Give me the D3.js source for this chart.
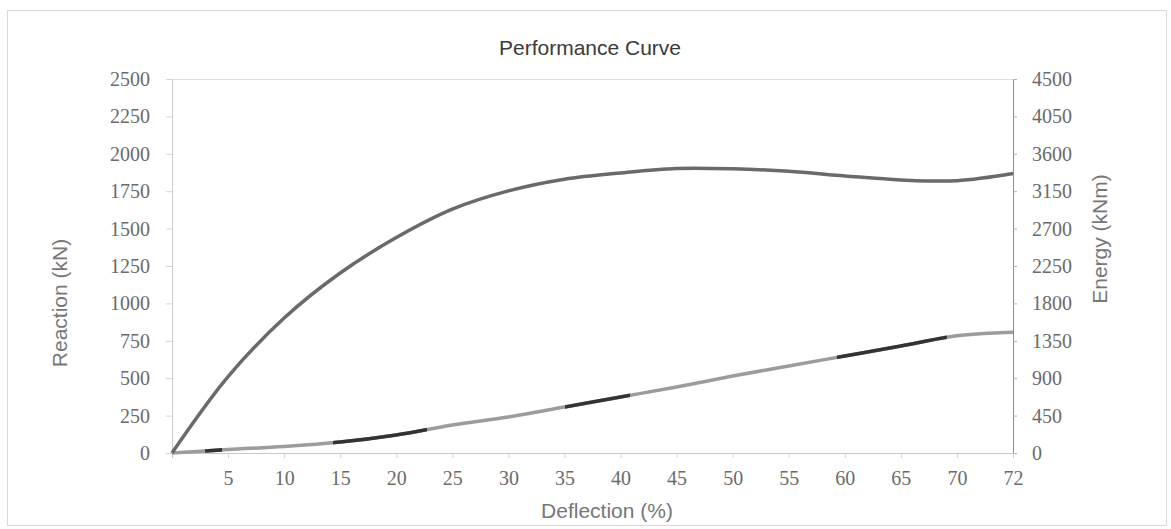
<!DOCTYPE html>
<html>
<head>
<meta charset="utf-8">
<script src="https://cdn.jsdelivr.net/npm/d3@7"></script>
<style>
  body { margin: 0; background: #fff; }
</style>
</head>
<body>
<div id="chart"></div>
<script>
// Categories on the x axis (equally spaced, Excel-style category axis)
const deflection = ["0", "5", "10", "15", "20", "25", "30", "35", "40", "45", "50", "55", "60", "65", "70", "72"];

// Reaction (kN), left axis
const reaction = [0, 510, 902, 1203, 1440, 1630, 1752, 1830, 1872, 1902, 1900, 1883, 1852, 1825, 1820, 1868];

// Energy (kNm), right axis
const energy = [0, 42, 78, 132, 217, 337, 433, 553, 674, 794, 926, 1047, 1167, 1287, 1410, 1452];

// Darker stretches of the energy line in the scan (in category-index units)
const energyDarkSpans = [[0.59, 0.89], [2.87, 4.55], [7.01, 8.17], [11.86, 13.82]];

const reactionTicks = [0, 250, 500, 750, 1000, 1250, 1500, 1750, 2000, 2250, 2500];
const energyTicks = [0, 450, 900, 1350, 1800, 2250, 2700, 3150, 3600, 4050, 4500];

const W = 1171, H = 529;
const margin = { top: 79, right: 158, bottom: 76, left: 172 };
const width = W - margin.left - margin.right;
const height = H - margin.top - margin.bottom;

const svg = d3.select("#chart")
  .append("svg")
  .attr("width", W)
  .attr("height", H);

// Outer chart border
svg.append("rect")
  .attr("x", 7.5).attr("y", 10.5)
  .attr("width", 1159).attr("height", 515)
  .attr("fill", "none")
  .attr("stroke", "#d9d9d9");

const g = svg.append("g")
  .attr("transform", `translate(${margin.left},${margin.top})`);

// Scales
const x = d3.scaleLinear().domain([0, deflection.length - 1]).range([0, width]);
const yLeft = d3.scaleLinear().domain([0, 2500]).range([height, 0]);
const yRight = d3.scaleLinear().domain([0, 4500]).range([height, 0]);

const tickFont = "'Liberation Serif', 'Times New Roman', serif";
const titleFont = "'Liberation Sans', Arial, sans-serif";

// Top border of plot area
g.append("line")
  .attr("x1", 0).attr("x2", width)
  .attr("y1", 0.5).attr("y2", 0.5)
  .attr("stroke", "#e0e0e0");

// Left axis
const leftAxis = g.append("g")
  .call(d3.axisLeft(yLeft).tickValues(reactionTicks).tickFormat(d3.format("d")).tickSize(6).tickPadding(16));
leftAxis.select(".domain").attr("stroke", "#d0d0d0");
leftAxis.selectAll(".tick line").attr("stroke", "#d4d4d4");
leftAxis.selectAll(".tick text")
  .attr("fill", "#6b6b6b")
  .style("font-family", tickFont)
  .style("font-size", "20px");

// Right axis
const rightAxis = g.append("g")
  .attr("transform", `translate(${width},0)`)
  .call(d3.axisRight(yRight).tickValues(energyTicks).tickFormat(d3.format("d")).tickSize(4).tickPadding(15));
rightAxis.select(".domain").attr("stroke", "#8c8c8c");
rightAxis.selectAll(".tick line").attr("stroke", "#b0b0b0");
rightAxis.selectAll(".tick text")
  .attr("fill", "#6b6b6b")
  .style("font-family", tickFont)
  .style("font-size", "20px");

// Bottom axis
const bottomAxis = g.append("g")
  .attr("transform", `translate(0,${height})`)
  .call(d3.axisBottom(x)
    .tickValues(d3.range(1, deflection.length))
    .tickFormat(i => deflection[i])
    .tickSize(5)
    .tickPadding(13));
bottomAxis.select(".domain").attr("stroke", "#c8c8c8");
bottomAxis.selectAll(".tick line").attr("stroke", "#cfcfcf");
bottomAxis.selectAll(".tick text")
  .attr("fill", "#6b6b6b")
  .style("font-family", tickFont)
  .style("font-size", "20px");

// Lines (smoothed like the spreadsheet original)
const reactionLine = d3.line()
  .x((d, i) => x(i))
  .y(d => yLeft(d))
  .curve(d3.curveCatmullRom.alpha(0.5));

const energyLine = d3.line()
  .x((d, i) => x(i))
  .y(d => yRight(d))
  .curve(d3.curveCatmullRom.alpha(0.5));

g.append("path")
  .datum(energy)
  .attr("fill", "none")
  .attr("stroke", "#9c9c9c")
  .attr("stroke-width", 3.5)
  .attr("d", energyLine);

// Dark stretches: same energy path, clipped to the spans
const defs = svg.append("defs");
energyDarkSpans.forEach((s, k) => {
  defs.append("clipPath")
    .attr("id", `dark-${k}`)
    .append("rect")
    .attr("x", x(s[0]))
    .attr("y", -10)
    .attr("width", x(s[1]) - x(s[0]))
    .attr("height", height + 20);
  g.append("path")
    .datum(energy)
    .attr("clip-path", `url(#dark-${k})`)
    .attr("fill", "none")
    .attr("stroke", "#333333")
    .attr("stroke-width", 3.5)
    .attr("d", energyLine);
});

g.append("path")
  .datum(reaction)
  .attr("fill", "none")
  .attr("stroke", "#6a6a6a")
  .attr("stroke-width", 3.5)
  .attr("d", reactionLine);

// Title
svg.append("text")
  .attr("x", 590)
  .attr("y", 55)
  .attr("text-anchor", "middle")
  .attr("fill", "#3a3a3a")
  .style("font-family", titleFont)
  .style("font-size", "21px")
  .text("Performance Curve");

// Axis titles
svg.append("text")
  .attr("x", 607)
  .attr("y", 518)
  .attr("text-anchor", "middle")
  .attr("fill", "#777")
  .style("font-family", titleFont)
  .style("font-size", "21px")
  .text("Deflection (%)");

svg.append("text")
  .attr("transform", "translate(67,303) rotate(-90)")
  .attr("text-anchor", "middle")
  .attr("fill", "#777")
  .style("font-family", titleFont)
  .style("font-size", "21px")
  .text("Reaction (kN)");

svg.append("text")
  .attr("transform", "translate(1107,239) rotate(-90)")
  .attr("text-anchor", "middle")
  .attr("fill", "#777")
  .style("font-family", titleFont)
  .style("font-size", "21px")
  .text("Energy (kNm)");
</script>
</body>
</html>
